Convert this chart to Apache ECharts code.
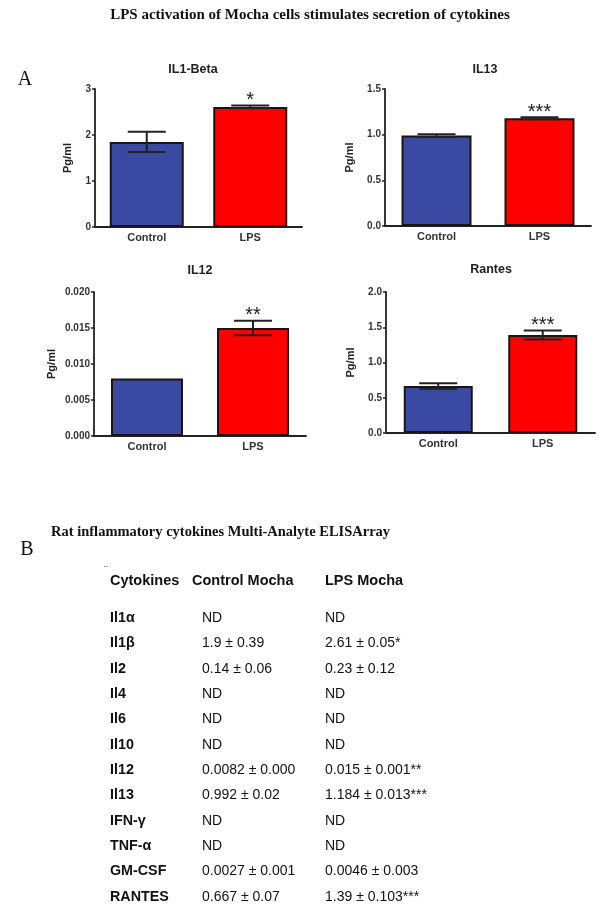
<!DOCTYPE html>
<html><head><meta charset="utf-8">
<script src="https://cdn.jsdelivr.net/npm/echarts@6/dist/echarts.min.js"></script>
<style>html,body{margin:0;padding:0;background:#fff}#c{width:604px;height:911px}</style>
</head><body><div id="c"></div>
<script>
// ---- data ----
const categories = ['Control', 'LPS'];
const il1Mean = [1.85, 2.61];
const il1Err = [0.22, 0.03];
const il1Stars = ['', '*'];
const il13Mean = [0.99, 1.18];
const il13Err = [0.015, 0.01];
const il13Stars = ['', '***'];
const il12Mean = [0.008, 0.015];
const il12Err = [0, 0.001];
const il12Stars = ['', '**'];
const rantesMean = [0.667, 1.39];
const rantesErr = [0.04, 0.063];
const rantesStars = ['', '***'];

const tableHeaders = ['Cytokines', 'Control Mocha', 'LPS Mocha'];
const cytokineNames = ['Il1α', 'Il1β', 'Il2', 'Il4', 'Il6', 'Il10', 'Il12', 'Il13', 'IFN-γ', 'TNF-α', 'GM-CSF', 'RANTES'];
const controlValues = ['ND', '1.9 ± 0.39', '0.14 ± 0.06', 'ND', 'ND', 'ND', '0.0082 ± 0.000', '0.992 ± 0.02', 'ND', 'ND', '0.0027 ± 0.001', '0.667 ± 0.07'];
const lpsValues = ['ND', '2.61 ± 0.05*', '0.23 ± 0.12', 'ND', 'ND', 'ND', '0.015 ± 0.001**', '1.184 ± 0.013***', 'ND', 'ND', '0.0046 ± 0.003', '1.39 ± 0.103***'];

// ---- layout ----
const SANS = 'Liberation Sans, Arial, sans-serif';
const SERIF = 'Liberation Serif, Times New Roman, serif';
const BLUE = '#3a49a2';
const RED = '#fe0000';
const INK = '#222';

const panels = [
  {title: 'IL1-Beta', mean: il1Mean, err: il1Err, stars: il1Stars, max: 3, interval: 1, dec: 0,
   grid: {left: 95, top: 89, width: 207, height: 138}, nameGap: 22, barWidth: 74, tx: 193, ty: 70},
  {title: 'IL13', mean: il13Mean, err: il13Err, stars: il13Stars, max: 1.5, interval: 0.5, dec: 1,
   grid: {left: 385, top: 89, width: 206, height: 137}, nameGap: 30, barWidth: 70, tx: 485, ty: 70},
  {title: 'IL12', mean: il12Mean, err: il12Err, stars: il12Stars, max: 0.02, interval: 0.005, dec: 3,
   grid: {left: 94, top: 292, width: 212, height: 144}, nameGap: 37, barWidth: 72, tx: 200, ty: 271},
  {title: 'Rantes', mean: rantesMean, err: rantesErr, stars: rantesStars, max: 2, interval: 0.5, dec: 1,
   grid: {left: 386, top: 292, width: 209, height: 141}, nameGap: 30, barWidth: 69, tx: 491, ty: 270}
];

const grids = [], xAxes = [], yAxes = [], series = [], graphics = [];
const barColors = [BLUE, RED];

panels.forEach((p, i) => {
  grids.push(Object.assign({containLabel: false}, p.grid));
  xAxes.push({
    type: 'category', gridIndex: i, data: categories,
    axisLine: {lineStyle: {color: INK, width: 1.8}},
    axisTick: {show: false},
    axisLabel: {color: '#333', fontFamily: SANS, fontWeight: 'bold', fontSize: 11, margin: 5}
  });
  yAxes.push({
    type: 'value', gridIndex: i, min: 0, max: p.max, interval: p.interval,
    axisLine: {show: true, lineStyle: {color: INK, width: 1.8}},
    axisTick: {show: true, length: 3, lineStyle: {color: INK, width: 1.5}},
    splitLine: {show: false},
    axisLabel: {color: '#333', fontFamily: SANS, fontWeight: 'bold', fontSize: 10, margin: 4,
      formatter: v => Number(v).toFixed(p.dec)},
    name: 'Pg/ml', nameLocation: 'middle', nameGap: p.nameGap,
    nameTextStyle: {color: '#222', fontFamily: SANS, fontWeight: 'bold', fontSize: 11}
  });
  series.push({
    type: 'bar', xAxisIndex: i, yAxisIndex: i, barWidth: p.barWidth, z: 2,
    data: p.mean.map((v, j) => ({value: v, itemStyle: {color: barColors[j]}})),
    itemStyle: {borderColor: '#1c1414', borderWidth: 2},
    animation: false, silent: true
  });
  const stars = p.stars;
  series.push({
    type: 'custom', xAxisIndex: i, yAxisIndex: i, animation: false, silent: true, clip: false, z: 5,
    data: p.mean.map((v, j) => [j, v, p.err[j]]),
    encode: {x: 0, y: 1},
    renderItem: function (params, api) {
      const idx = api.value(0), m = api.value(1), e = api.value(2);
      const top = api.coord([idx, m + e]);
      const bot = api.coord([idx, m - e]);
      const half = 19;
      const children = [];
      const ls = {stroke: INK, lineWidth: 2};
      if (e > 0) {
        children.push({type: 'line', shape: {x1: top[0], y1: top[1], x2: bot[0], y2: bot[1]}, style: ls});
        children.push({type: 'line', shape: {x1: top[0] - half, y1: top[1], x2: top[0] + half, y2: top[1]}, style: ls});
        children.push({type: 'line', shape: {x1: bot[0] - half, y1: bot[1], x2: bot[0] + half, y2: bot[1]}, style: ls});
      }
      const s = stars[params.dataIndex];
      if (s) {
        children.push({type: 'text', x: top[0], y: top[1] - 5,
          style: {text: s, font: '20px ' + SANS, fill: INK, align: 'center', verticalAlign: 'middle'}});
      }
      return {type: 'group', children: children};
    }
  });
  graphics.push({type: 'text', x: p.tx, y: p.ty,
    style: {text: p.title, font: 'bold 12.5px ' + SANS, fill: '#222', align: 'center', verticalAlign: 'middle'}});
});

// titles & panel letters
graphics.push({type: 'text', x: 310, y: 15,
  style: {text: 'LPS activation of Mocha cells stimulates secretion of cytokines', font: 'bold 15px ' + SERIF, fill: '#111', align: 'center', verticalAlign: 'middle'}});
graphics.push({type: 'text', x: 25, y: 80,
  style: {text: 'A', font: '20px ' + SERIF, fill: '#111', align: 'center', verticalAlign: 'middle'}});
graphics.push({type: 'text', x: 27, y: 550,
  style: {text: 'B', font: '20px ' + SERIF, fill: '#111', align: 'center', verticalAlign: 'middle'}});
graphics.push({type: 'text', x: 51, y: 532,
  style: {text: 'Rat inflammatory cytokines Multi-Analyte ELISArray', font: 'bold 14.5px ' + SERIF, fill: '#111', align: 'left', verticalAlign: 'middle'}});

// table
const headerX = [110, 192, 325];
tableHeaders.forEach((h, k) => {
  graphics.push({type: 'text', x: headerX[k], y: 581,
    style: {text: h, font: 'bold 14.5px ' + SANS, fill: '#111', align: 'left', verticalAlign: 'middle'}});
});
graphics.push({type: 'text', x: 104, y: 570,
  style: {text: '¨', font: '9px ' + SANS, fill: '#444', align: 'left', verticalAlign: 'middle'}});
const rowX = [110, 202, 325];
cytokineNames.forEach((name, r) => {
  const y = 618 + r * 25.34;
  graphics.push({type: 'text', x: rowX[0], y: y,
    style: {text: name, font: 'bold 14.3px ' + SANS, fill: '#111', align: 'left', verticalAlign: 'middle'}});
  graphics.push({type: 'text', x: rowX[1], y: y,
    style: {text: controlValues[r], font: '14px ' + SANS, fill: '#111', align: 'left', verticalAlign: 'middle'}});
  graphics.push({type: 'text', x: rowX[2], y: y,
    style: {text: lpsValues[r], font: '14px ' + SANS, fill: '#111', align: 'left', verticalAlign: 'middle'}});
});

const chart = echarts.init(document.getElementById('c'), null, {renderer: 'canvas'});
chart.setOption({
  backgroundColor: '#fff',
  animation: false,
  grid: grids, xAxis: xAxes, yAxis: yAxes, series: series,
  graphic: graphics
});
</script>
</body></html>
